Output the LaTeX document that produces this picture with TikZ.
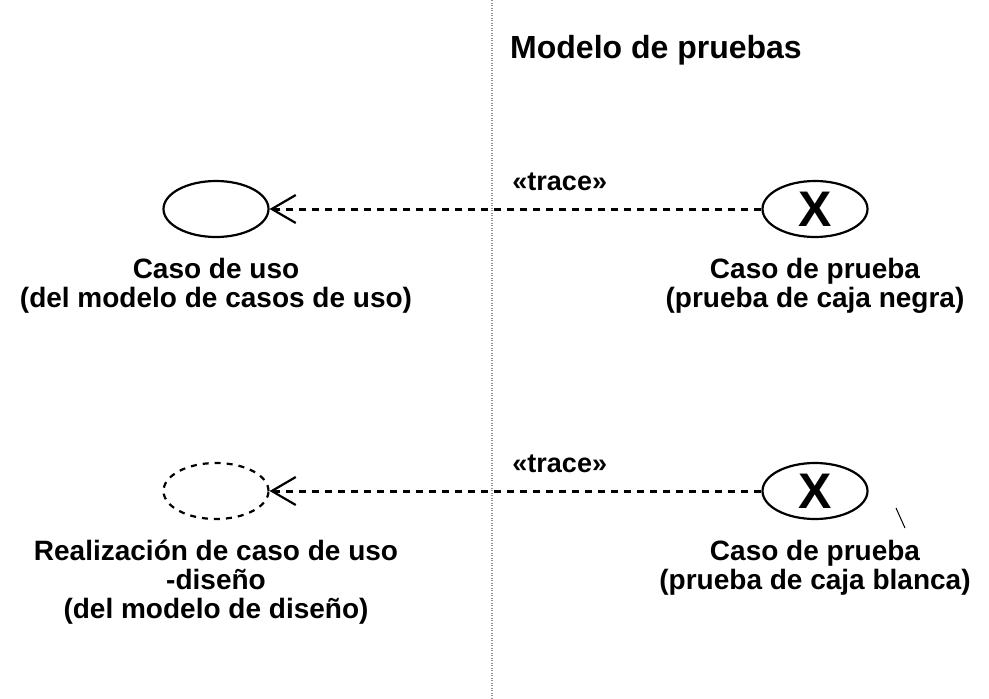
\documentclass[tikz,border=0pt]{standalone}
\usepackage{fontspec}
\setmainfont{Liberation Sans}
\usetikzlibrary{positioning}
\usetikzlibrary{arrows.meta}
\usetikzlibrary{shapes}

\begin{document}
\begin{tikzpicture}[x=1pt, y=-1pt,
  usecase/.style={ellipse, draw, line width=2.2pt, minimum width=105pt, minimum height=56pt, inner sep=0pt},
  testcase/.style={usecase, font=\bfseries\fontsize{50}{50}\selectfont},
  lbl/.style={align=center, inner sep=0pt, font=\bfseries\fontsize{28}{29}\selectfont},
  traceline/.style={line width=3pt, dash pattern=on 7pt off 6pt, -{Straight Barb[length=24pt, width=28pt, line width=2.2pt]}},
  trace/.style={inner sep=0pt, font=\bfseries\fontsize{27}{27}\selectfont}]
%%% model boundary %%%
\useasboundingbox (0,0) rectangle (989,699);
\draw[gray!85, line width=2pt, dash pattern=on 1pt off 1.5pt] (492,0) -- (492,699);

\node[inner sep=0pt, font=\bfseries\fontsize{32}{32}\selectfont] (titulo) at (656,50) {Modelo de pruebas};

%% black box test
\node[usecase] (uso) at (216,209) {};
\node[testcase] (pruebaN) at (815,209) {X};
\node[lbl, below=20pt of uso] (usoL) {Caso de uso\\(del modelo de casos de uso)};
\node[lbl, below=20pt of pruebaN] (pruebaNL) {Caso de prueba\\(prueba de caja negra)};
\draw[traceline] (pruebaN) -- (uso) node[trace, pos=0.41, above=17pt] (traceA) {«trace»};

%% white box test
\node[usecase, dash pattern=on 6pt off 6pt] (diseno) at (216,491) {};
\node[testcase] (pruebaB) at (815,491) {X};
\node[lbl, below=20pt of diseno] (disenoL) {Realización de caso de uso\\-diseño\\(del modelo de diseño)};
\node[lbl, below=20pt of pruebaB] (pruebaBL) {Caso de prueba\\(prueba de caja blanca)};
\draw[traceline] (pruebaB) -- (diseno) node[trace, pos=0.41, above=17pt] (traceB) {«trace»};

\draw[line width=1pt] (896,508) -- (905,528);
\end{tikzpicture}
\end{document}
